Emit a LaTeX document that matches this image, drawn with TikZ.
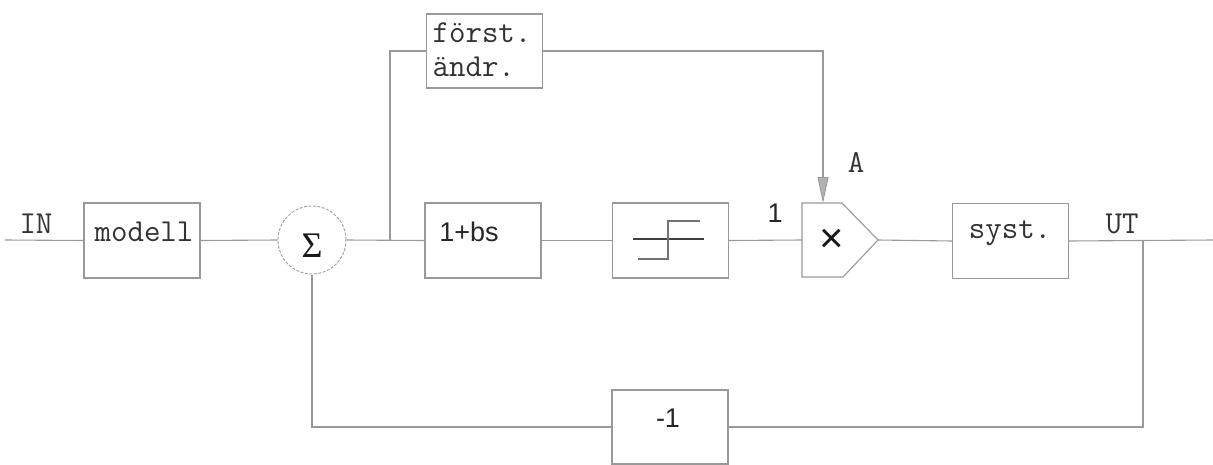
\documentclass[tikz,border=0pt]{standalone}
\usepackage{fontspec}
\newfontfamily\hsans{Liberation Sans}
\newfontfamily\hserif{Liberation Serif}
\usetikzlibrary{arrows.meta}
\tikzset{
  wire/.style={draw=black!40, line width=1.1pt},
  blk/.style={draw=black!40, line width=1.1pt, minimum width=116pt, minimum height=75pt, inner sep=0pt},
  tt/.style={text=black!80, font=\fontsize{32}{34}\selectfont\ttfamily, inner sep=0pt},
  ss/.style={text=black!85, font=\fontsize{27}{29}\selectfont\hsans, inner sep=0pt},
}
\begin{document}
\begin{tikzpicture}[x=1pt,y=-1pt]
\useasboundingbox (0,0) rectangle (1213,464);
% blocks
\node[blk] (modell) at (142,240.5) {};
\node[tt] at (144,232) {modell};
\node[circle, draw=black!35, line width=1pt, dash pattern=on 3pt off 1.5pt, minimum size=68pt, inner sep=0pt] (sum) at (312,240) {};
\node[text=black!90, font=\fontsize{36}{38}\selectfont\hserif, inner sep=0pt] at (312,246) {Σ};
\node[blk] (lead) at (483,240.5) {};
\node[ss] at (469,232) {1+bs};
\node[blk] (relay) at (670.5,240.5) {};
\node[blk] (syst) at (1010.5,241) {};
\node[tt] at (1010,233) {syst.};
\node[blk, minimum height=74pt] (fa) at (484.5,51) {};
\node[tt, align=left] at (482,50) {först.\\ändr.};
\node[blk, minimum height=74pt] (neg) at (670,427) {};
\node[ss] at (668,418) {-1};
% relay symbol
\draw[black!75, line width=1.2pt] (633,239) -- (704,239);
\draw[black!55, line width=1.2pt] (638,259) -- (668,259) -- (668,221) -- (700,221);
% multiplier
\coordinate (mtop) at (823,203);
\coordinate (min) at (802,240);
\coordinate (mout) at (878,240);
\draw[wire] (802,203) -- (842,203) -- (mout) -- (843,277) -- (802,277) -- cycle;
\node[text=black!90, font=\fontsize{42}{42}\selectfont\hsans, inner sep=0pt] at (832,241) {×};
% texts
\coordinate (inL) at (5,240);
\coordinate (outR) at (1213,240);
\coordinate (j1) at (390,240);
\coordinate (j2) at (1143,240);
\node[tt] (IN) at (36,224) {IN};
\node[tt] (UT) at (1122,224) {UT};
\node[tt] (A) at (856,162) {A};
\node[ss] (one) at (775,213) {1};
% connectors
\draw[wire] (inL) -- (modell.west);
\draw[wire] (modell.east) -- (sum.west);
\draw[wire] (sum.east) -- (lead.west);
\draw[wire] (lead.east) -- (relay.west);
\draw[wire] (relay.east) -- (min);
\draw[wire] (mout) -- (syst.west);
\draw[wire] (syst.east) -- (outR);
\draw[wire] (j1) |- (fa.west);
\draw[wire] (fa.east) -| (823,170);
\draw[draw=black!40, line width=1.1pt, -{Triangle[length=26pt, width=11pt, fill=black!30, line width=0.8pt]}] (823,168) -- (mtop);
\draw[wire] (j2) |- (neg.east);
\draw[wire] (sum.south) |- (neg.west);
\end{tikzpicture}
\end{document}
